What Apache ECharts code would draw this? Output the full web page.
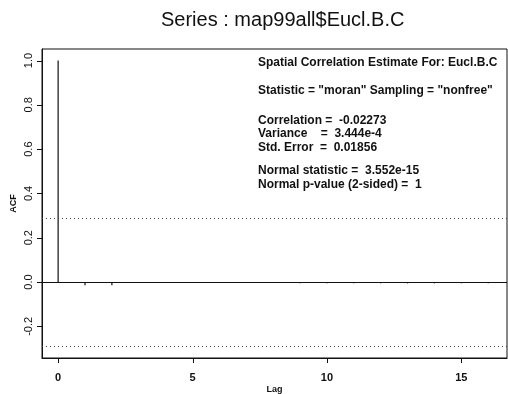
<!DOCTYPE html>
<html>
<head>
<meta charset="utf-8">
<script src="https://cdn.jsdelivr.net/npm/echarts@6/dist/echarts.min.js"></script>
<style>html,body{margin:0;padding:0;background:#fff}#c{width:508px;height:394px}</style>
</head>
<body>
<div id="c"></div>
<script>
var lags = [0,1,2,3,4,5,6,7,8,9,10,11,12,13,14,15,16];
var acf = [1.0,-0.015,-0.015,-0.004,-0.004,-0.004,-0.004,-0.004,-0.004,-0.006,-0.006,-0.006,-0.005,-0.006,-0.006,-0.006,-0.006];
var confLimit = 0.29;
var xTicks = [0,5,10,15];
var yTicks = [-0.2,0,0.2,0.4,0.6,0.8,1.0];
var titleText = "Series : map99all$Eucl.B.C";
var infoLines = [
  "Spatial Correlation Estimate For: Eucl.B.C",
  "",
  "Statistic = \"moran\" Sampling = \"nonfree\"",
  "",
  "Correlation =  -0.02273",
  "Variance    =  3.444e-4",
  "Std. Error  =  0.01856",
  "",
  "Normal statistic =  3.552e-15",
  "Normal p-value (2-sided) =  1"
];

var FONT = "Liberation Sans, Arial, sans-serif";
var X_MIN = -0.6, X_MAX = 16.7, Y_MIN = -0.343, Y_MAX = 1.052;
var chart = echarts.init(document.getElementById('c'), null, {renderer:'canvas'});

var infoY = [64, 78, 92, 106, 122, 135, 149, 160, 172, 186];
var graphics = [];
infoLines.forEach(function(t, i){
  if (!t) return;
  graphics.push({type:'text', left: 258, top: infoY[i] - 7,
    style:{text:t, font:'bold 12px ' + FONT, fill:'#111'}});
});

chart.setOption({
  animation:false,
  backgroundColor:'#fff',
  title:{text:titleText, left:156, top:5,
    textStyle:{fontFamily:FONT, fontSize:20, fontWeight:'normal', color:'#111'}},
  grid:{left:42, right:1, top:49, bottom:36, show:true, borderColor:'#111', borderWidth:1,
    backgroundColor:'transparent', outerBoundsMode:'none', containLabel:false},
  xAxis:{type:'value', min:X_MIN, max:X_MAX,
    name:'Lag', nameLocation:'middle', nameGap:27, nameMoveOverlap:false,
    nameTextStyle:{fontFamily:FONT, fontSize:9, fontWeight:'bold', color:'#111'},
    axisLine:{show:true, onZero:false, lineStyle:{color:'#111'}},
    axisTick:{show:false},
    axisLabel:{customValues:xTicks, margin:14, fontFamily:FONT, fontSize:11, fontWeight:'bold', color:'#111'},
    splitLine:{show:false}},
  yAxis:{type:'value', min:Y_MIN, max:Y_MAX,
    name:'ACF', nameLocation:'middle', nameGap:24, nameRotate:90, nameMoveOverlap:false,
    nameTextStyle:{fontFamily:FONT, fontSize:9, fontWeight:'bold', color:'#111'},
    axisLine:{show:true, onZero:false, lineStyle:{color:'#111'}},
    axisTick:{show:false},
    axisLabel:{customValues:yTicks, rotate:90, margin:8, fontFamily:FONT, fontSize:11, color:'#111',
      formatter:function(v){return v.toFixed(1);}},
    splitLine:{show:false}},
  graphic:graphics,
  series:[{
    type:'custom',
    data:lags.map(function(l,i){return [l, acf[i]];}),
    renderItem:function(params, api){
      var p0 = api.coord([api.value(0), 0]);
      var p1 = api.coord([api.value(0), api.value(1)]);
      return {type:'line', shape:{x1:p0[0], y1:p0[1], x2:p1[0], y2:p1[1]},
        style:{stroke:'#111', lineWidth:1.2}};
    },
    markLine:{symbol:'none', silent:true, label:{show:false},
      data:[
        {yAxis:0, lineStyle:{color:'#111', type:'solid', width:1.2}},
        {yAxis:confLimit, lineStyle:{color:'#444', type:[1,3], width:1}},
        {yAxis:-confLimit, lineStyle:{color:'#444', type:[1,3], width:1}}
      ]}
  }]
});

// axis tick marks placed with the library's own scale (convertToPixel)
var tickGraphics = graphics.slice();
xTicks.forEach(function(v){
  var p = chart.convertToPixel({gridIndex:0}, [v, Y_MIN]);
  var x = Math.round(p[0]) + 0.5, y = Math.round(p[1]);
  tickGraphics.push({type:'line', silent:true, z:100,
    shape:{x1:x, y1:y, x2:x, y2:y + 5}, style:{stroke:'#111', lineWidth:1}});
});
yTicks.forEach(function(v){
  var p = chart.convertToPixel({gridIndex:0}, [X_MIN, v]);
  var x = Math.round(p[0]), y = Math.round(p[1]) + 0.5;
  tickGraphics.push({type:'line', silent:true, z:100,
    shape:{x1:x - 5, y1:y, x2:x, y2:y}, style:{stroke:'#111', lineWidth:1}});
});
chart.setOption({graphic:tickGraphics}, {replaceMerge:['graphic']});
</script>
</body>
</html>
